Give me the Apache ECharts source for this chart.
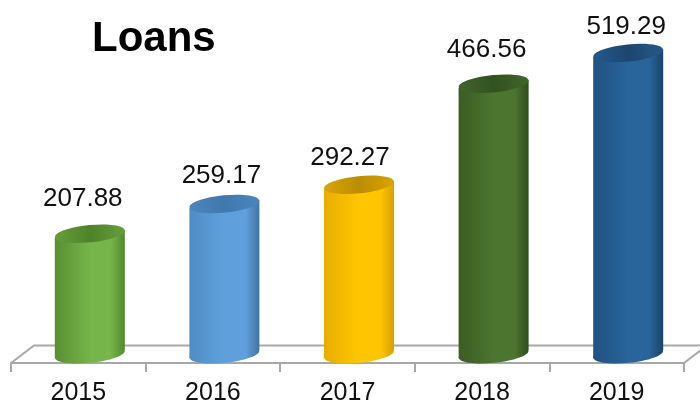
<!DOCTYPE html>
<html>
<head>
<meta charset="utf-8">
<style>html,body{margin:0;padding:0;background:#fff}#chart{width:700px;height:406px}</style>
<script src="https://cdn.jsdelivr.net/npm/echarts@6/dist/echarts.min.js"></script>
</head>
<body>
<div id="chart"></div>
<script>
const years = ['2015', '2016', '2017', '2018', '2019'];
const loans = [207.88, 259.17, 292.27, 466.56, 519.29];

// Cylinder shades per year: [side edge, side centre, far edge, cap edge, cap centre]
const shades = [
  ['#588f32', '#76b54a', '#4f8a2a', '#649f3a', '#4f8229'],
  ['#4f8cc4', '#5fa0dc', '#41749f', '#4a86bd', '#3f78ad'],
  ['#e8ae00', '#ffc600', '#d8a000', '#d9a400', '#bb8c00'],
  ['#3a5c22', '#4c7530', '#2f4c1b', '#40662a', '#33511e'],
  ['#215181', '#29649b', '#1b4368', '#24598b', '#1c4670']
];
// Hand placement of the value labels relative to each cylinder's cap
const labelShift = [[-7, -35], [-3, -28], [-9, -27], [-7, -34], [-2, -26]];

const depthX = 23, depthY = 17.5, radiusX = 35, radiusY = 8.6, tilt = 0.1, sag = 4;
const font = '"Liberation Sans", Arial, sans-serif';
const floorColor = '#a8a8a8';

function sideFill(s) {
  return { type: 'linear', x: 0, y: 0, x2: 1, y2: 0, colorStops: [
    { offset: 0, color: s[0] }, { offset: 0.5, color: s[1] },
    { offset: 0.8, color: s[1] }, { offset: 1, color: s[2] }
  ] };
}
function capFill(s) {
  return { type: 'linear', x: 0, y: 0, x2: 1, y2: 0, colorStops: [
    { offset: 0, color: s[3] }, { offset: 0.5, color: s[4] }, { offset: 1, color: s[3] }
  ] };
}

function renderCylinder(params, api) {
  const i = params.dataIndex;
  const value = api.value(1);
  const top = api.coord([i, value]);
  const base = api.coord([i, 0]);
  const cx = top[0] + depthX / 2;
  const yTop = top[1] - depthY / 2;
  const yBase = base[1] - depthY / 2;
  const s = shades[i];
  return {
    type: 'group',
    children: [
      { type: 'ellipse', shape: { cx: 0, cy: 0, rx: radiusX, ry: radiusY }, x: cx, y: yBase, rotation: tilt,
        style: { fill: sideFill(s) } },
      { type: 'polygon',
        shape: { points: [[cx - radiusX, yTop + sag], [cx + radiusX, yTop - sag], [cx + radiusX, yBase - sag], [cx - radiusX, yBase + sag]] },
        style: { fill: sideFill(s) } },
      { type: 'ellipse', shape: { cx: 0, cy: 0, rx: radiusX, ry: radiusY }, x: cx, y: yTop, rotation: tilt,
        style: { fill: capFill(s) } },
      { type: 'text', x: cx + labelShift[i][0], y: yTop + labelShift[i][1],
        style: { text: value.toFixed(2), font: '26px ' + font, fill: '#111', align: 'center', verticalAlign: 'middle' } }
    ]
  };
}

// Floor of the 3D plot: back edge and the two receding side edges
function renderFloor(params) {
  const g = params.coordSys;
  const front = g.y + g.height, back = front - depthY;
  const line = { stroke: floorColor, lineWidth: 2, fill: null };
  return {
    type: 'polyline',
    shape: { points: [[g.x, front], [g.x + depthX, back], [g.x + g.width + depthX, back], [g.x + g.width, front]] },
    style: line
  };
}

const chart = echarts.init(document.getElementById('chart'), null, { renderer: 'canvas' });
chart.setOption({
  animation: false,
  backgroundColor: '#fff',
  title: {
    text: 'Loans', left: 87, top: 13,
    textStyle: { fontFamily: font, fontSize: 42, fontWeight: 'bold', color: '#000' }
  },
  grid: { left: 11, right: 16, top: 15, bottom: 42.5 },
  xAxis: {
    type: 'category', data: years,
    axisLine: { lineStyle: { color: floorColor, width: 2 } },
    axisTick: { show: true, length: 9, alignWithLabel: false, lineStyle: { color: floorColor, width: 2 } },
    axisLabel: { fontFamily: font, fontSize: 25, color: '#111', margin: 18 }
  },
  yAxis: { type: 'value', min: 0, max: 600, show: false },
  series: [
    { type: 'custom', data: [[0, 0]], renderItem: renderFloor, clip: false, silent: true, z: 1 },
    { type: 'custom', data: loans.map((v, i) => [i, v]), renderItem: renderCylinder, clip: false, z: 3,
      encode: { x: 0, y: 1 } }
  ]
});
</script>
</body>
</html>
